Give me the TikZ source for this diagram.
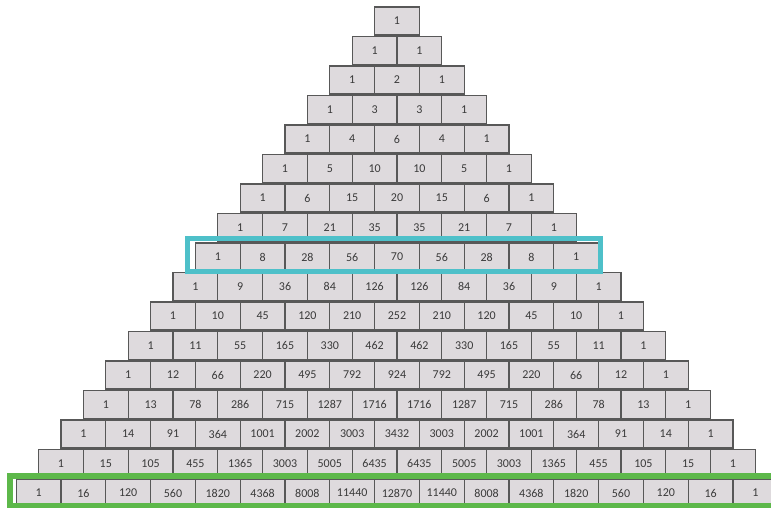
\documentclass[tikz,border=0pt]{standalone}
\usepackage{fontspec}
\setmainfont{Carlito}
\usetikzlibrary{fit}
\definecolor{cellfill}{HTML}{DEDADD}
\definecolor{celledge}{HTML}{585858}
\definecolor{celltext}{HTML}{3A3A3A}
\definecolor{rowcyan}{HTML}{4EC0C9}
\definecolor{rowgreen}{HTML}{5DB84A}
\tikzset{
  cell/.style={draw=celledge,line width=1.3pt,fill=cellfill,text=celltext,
    minimum width=44.8pt,minimum height=28pt,inner sep=0pt,
    font=\fontsize{12}{14}\selectfont},
  rowbox/.style={draw,rectangle,inner sep=0pt}
}
\newcommand*\cellw{44.8}
\newcommand*\rowh{29.5}

\begin{document}
\begin{tikzpicture}[x=1pt,y=1pt]
\useasboundingbox (0,0) rectangle (771,-508);

% pascal rows, value kept from cell to cell
\foreach \n in {0,...,16}{
  \xdef\val{1}
  \foreach \k in {0,...,\n}{
    \node[cell] (c-\n-\k) at ({397+(\k-\n/2)*\cellw},{-21-\n*\rowh}) {\val};
    \xdef\val{\the\numexpr\val*(\n-\k)/(\k+1)\relax}
  }
}

% highlighted rows
\node[rowbox,draw=rowcyan,line width=5pt,inner xsep=4pt,inner ysep=1.5pt,
  xshift=-3pt,yshift=2pt,fit=(c-8-0)(c-8-8)] (row8) {};
\node[rowbox,draw=rowgreen,line width=6pt,inner xsep=6pt,inner ysep=0.5pt,
  yshift=2pt,fit=(c-16-0)(c-16-16)] (row16) {};

\end{tikzpicture}
\end{document}
